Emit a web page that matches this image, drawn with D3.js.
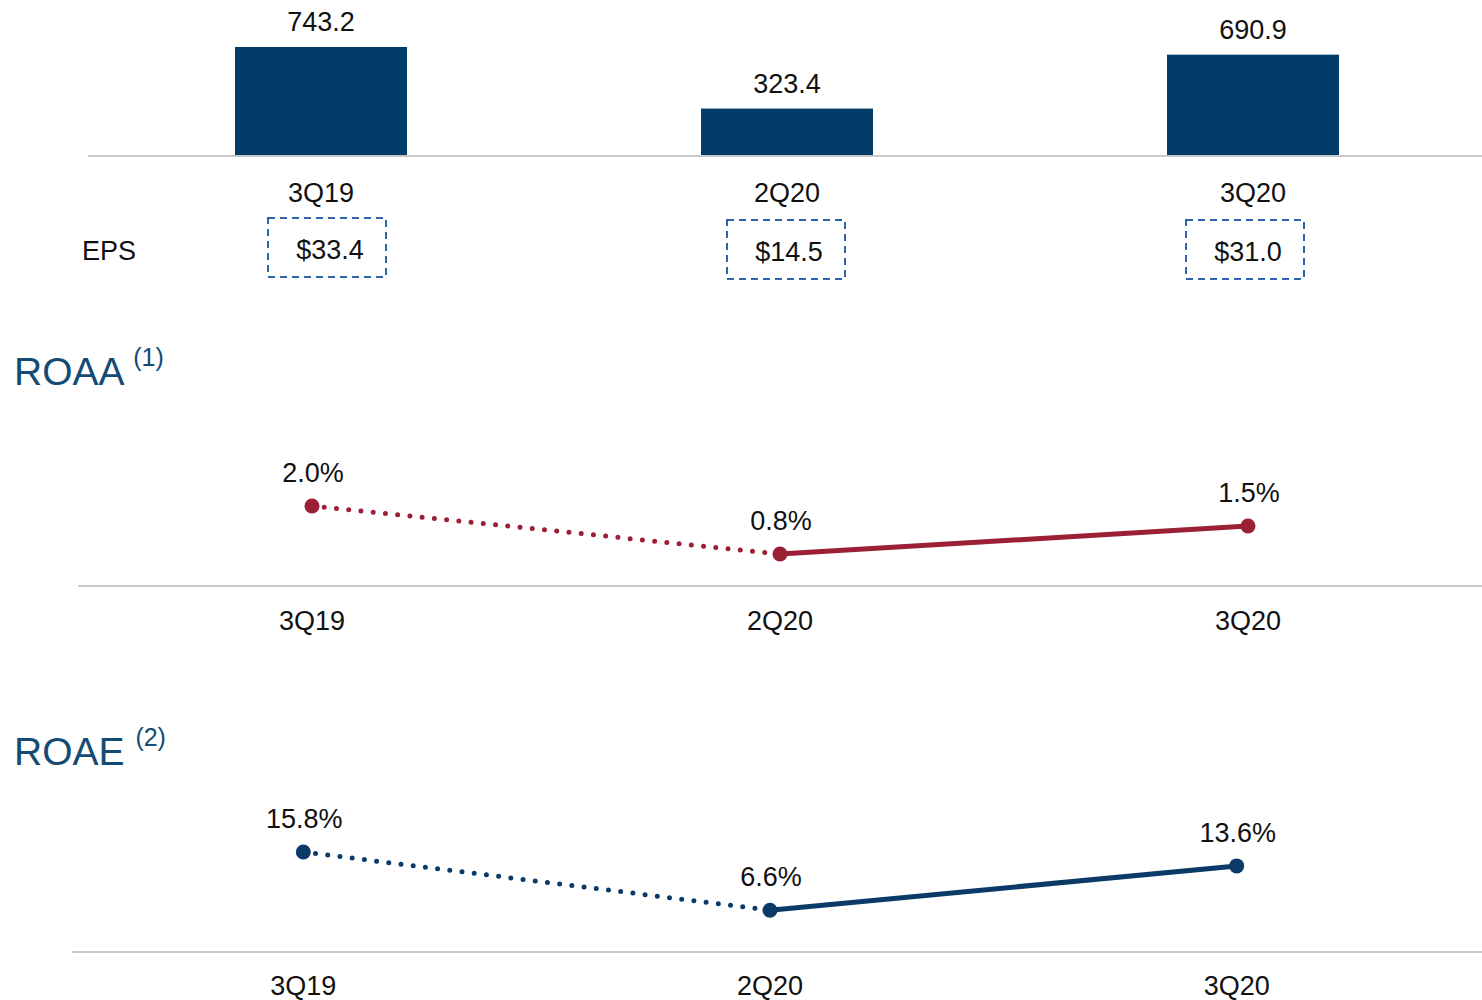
<!DOCTYPE html>
<html>
<head>
<meta charset="utf-8">
<script src="https://cdn.jsdelivr.net/npm/d3@7"></script>
<style>
  body { margin: 0; background: #fff; }
  text { font-family: "Liberation Sans", Arial, sans-serif; }
</style>
</head>
<body>
<div id="chart"></div>
<script>
const quarters = ['3Q19', '2Q20', '3Q20']
const netIncome = [743.2, 323.4, 690.9]
const eps = ['$33.4', '$14.5', '$31.0']
const roaa = [2.0, 0.8, 1.5]
const roae = [15.8, 6.6, 13.6]

const width = 1482
const height = 1000
const barColor = '#023c69'
const redColor = '#9b1f35'
const navyColor = '#0b3a66'
const titleColor = '#134b74'
const axisColor = '#c8c8c8'

const svg = d3.select('#chart')
    .append('svg')
    .attr('width', width)
    .attr('height', height)

// ---- bars (net income) ----
const xBar = d3.scalePoint().domain(quarters).range([88, 1486]).padding(0.5)
const yBar = d3.scaleLinear().domain([0, d3.max(netIncome)]).range([156, 47])
const barW = 172

svg.selectAll('.bar')
    .data(quarters)
    .join('rect')
    .attr('class', 'bar')
    .attr('x', d => xBar(d) - barW / 2)
    .attr('y', (d, i) => yBar(netIncome[i]))
    .attr('width', barW)
    .attr('height', (d, i) => yBar(0) - yBar(netIncome[i]))
    .attr('fill', barColor)

svg.append('line')
    .attr('x1', 88).attr('x2', width)
    .attr('y1', yBar(0)).attr('y2', yBar(0))
    .attr('stroke', axisColor).attr('stroke-width', 2)

svg.selectAll('.barval')
    .data(quarters)
    .join('text')
    .attr('class', 'barval')
    .attr('x', d => xBar(d))
    .attr('y', (d, i) => yBar(netIncome[i]) - 16)
    .attr('text-anchor', 'middle')
    .attr('font-size', 27)
    .attr('fill', '#111')
    .text((d, i) => d3.format('.1f')(netIncome[i]))

svg.selectAll('.barcat')
    .data(quarters)
    .join('text')
    .attr('class', 'barcat')
    .attr('x', d => xBar(d))
    .attr('y', 202)
    .attr('text-anchor', 'middle')
    .attr('font-size', 27)
    .attr('fill', '#111')
    .text(d => d)

// EPS row (boxes sit on their own, slightly tighter spacing)
svg.append('text')
    .attr('x', 82).attr('y', 260)
    .attr('font-size', 27).attr('fill', '#111')
    .text('EPS')

const xEps = d3.scalePoint().domain(quarters).range([97.5, 1474.5]).padding(0.5)

const epsG = svg.selectAll('.eps')
    .data(quarters)
    .join('g')
    .attr('class', 'eps')
    .attr('transform', (d, i) => `translate(${xEps(d)}, ${i == 0 ? 248 : 250})`)

epsG.append('rect')
    .attr('x', -59).attr('y', -30)
    .attr('width', 118).attr('height', 59)
    .attr('fill', 'none')
    .attr('stroke', '#2e63ae')
    .attr('stroke-width', 2)
    .attr('stroke-dasharray', '7,5')

epsG.append('text')
    .attr('x', 3).attr('y', 11)
    .attr('text-anchor', 'middle')
    .attr('font-size', 27).attr('fill', '#111')
    .text((d, i) => eps[i])

// ---- line panels ----
function title(y, name, note) {
    const t = svg.append('text')
        .attr('x', 14).attr('y', y)
        .attr('fill', titleColor)
        .attr('font-size', 39)
    t.append('tspan').text(name + ' ')
    t.append('tspan')
        .attr('font-size', 25)
        .attr('dy', -19)
        .text(note)
}

function linePanel(values, color, xRange, axisX0, y0, yTop, catY) {
    const x = d3.scalePoint().domain(quarters).range(xRange).padding(0.5)
    const y = d3.scaleLinear().domain([0, d3.max(values)]).range([y0, yTop])
    const g = svg.append('g')

    g.append('line')
        .attr('x1', axisX0).attr('x2', width)
        .attr('y1', y(0)).attr('y2', y(0))
        .attr('stroke', axisColor).attr('stroke-width', 2)

    const pts = quarters.map((q, i) => [x(q), y(values[i])])
    const line = d3.line()

    // dotted segment 3Q19 -> 2Q20
    g.append('path')
        .attr('d', line(pts.slice(0, 2)))
        .attr('fill', 'none')
        .attr('stroke', color)
        .attr('stroke-width', 5)
        .attr('stroke-linecap', 'round')
        .attr('stroke-dasharray', '0,12.3')

    // solid segment 2Q20 -> 3Q20
    g.append('path')
        .attr('d', line(pts.slice(1)))
        .attr('fill', 'none')
        .attr('stroke', color)
        .attr('stroke-width', 5)

    g.selectAll('circle')
        .data(pts)
        .join('circle')
        .attr('cx', d => d[0]).attr('cy', d => d[1])
        .attr('r', 7.5)
        .attr('fill', color)

    g.selectAll('.val')
        .data(quarters)
        .join('text')
        .attr('class', 'val')
        .attr('x', d => x(d) + 1)
        .attr('y', (d, i) => y(values[i]) - 24)
        .attr('text-anchor', 'middle')
        .attr('font-size', 27).attr('fill', '#111')
        .text((d, i) => d3.format('.1f')(values[i]) + '%')

    g.selectAll('.cat')
        .data(quarters)
        .join('text')
        .attr('class', 'cat')
        .attr('x', d => x(d))
        .attr('y', catY)
        .attr('text-anchor', 'middle')
        .attr('font-size', 27).attr('fill', '#111')
        .text(d => d)
}

title(385, 'ROAA', '(1)')
linePanel(roaa, redColor, [78, 1482], 78, 586, 506, 630)

title(765, 'ROAE', '(2)')
linePanel(roae, navyColor, [70, 1470], 72, 952, 852, 995)
</script>
</body>
</html>
